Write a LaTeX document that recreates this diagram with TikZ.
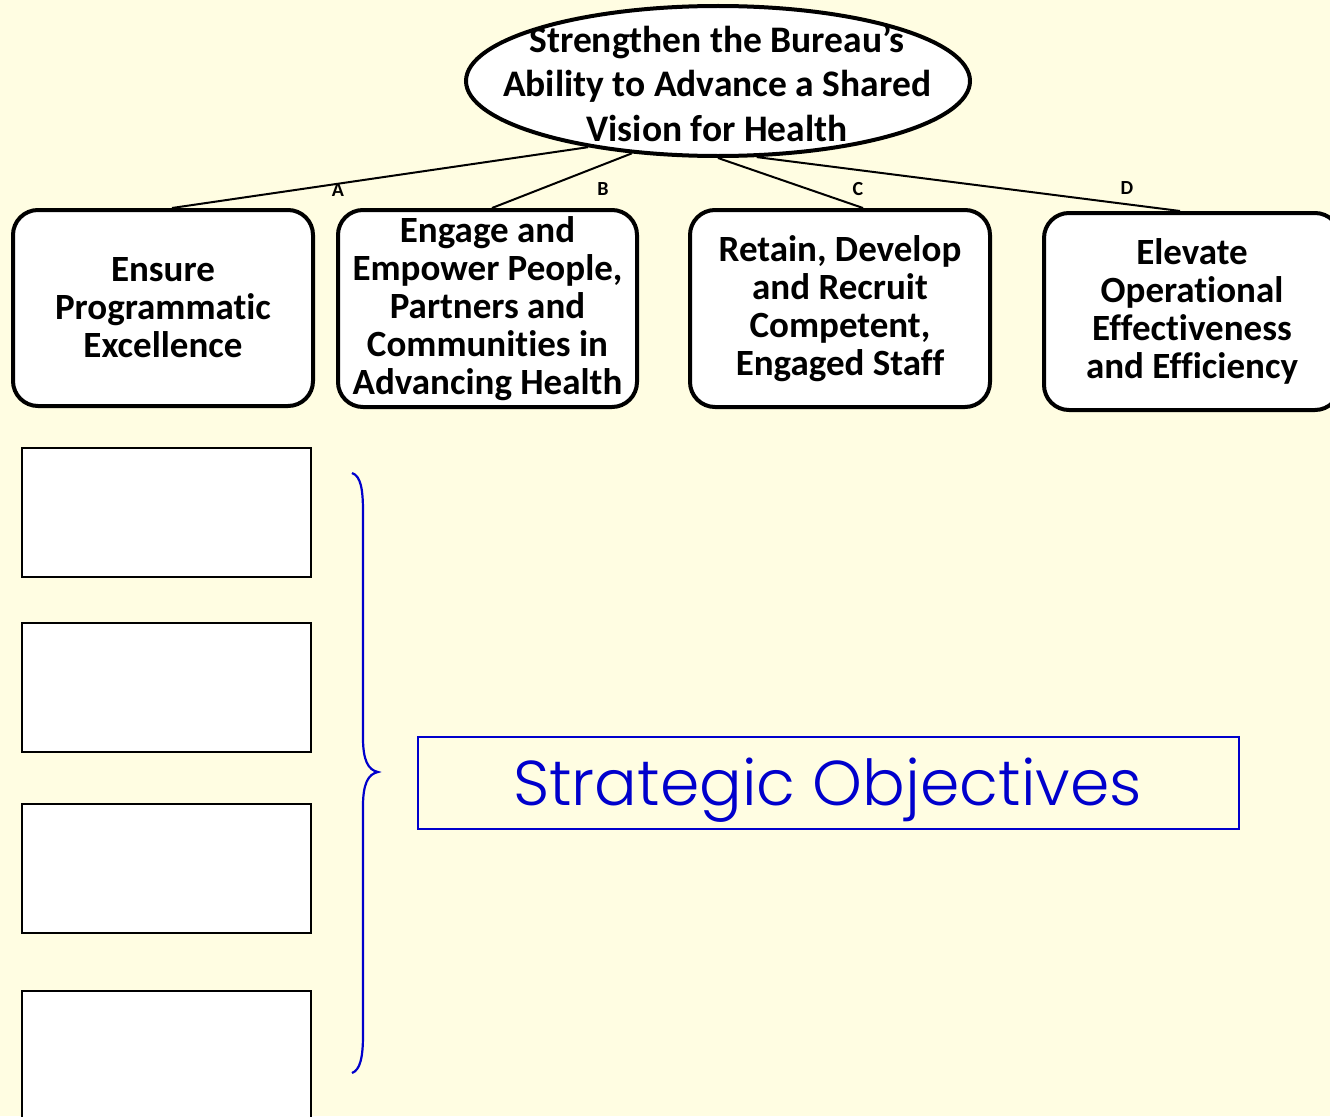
\documentclass[tikz,border=0pt]{standalone}
\usepackage{fontspec}
\setmainfont{Carlito}[Ligatures=NoCommon]
\IfFontExistsTF{Poppins Light}
  {\newfontfamily\gothic{Poppins Light}}
  {\newfontfamily\gothic{Poppins}}
\usetikzlibrary{shapes.geometric,calc}
\definecolor{paper}{HTML}{FFFDE2}
\definecolor{objblue}{RGB}{0,0,204}
\tikzset{
  goalbox/.style={draw=black, line width=4pt, fill=white, rounded corners=25pt,
    inner sep=0pt, align=center, font=\bfseries\fontsize{37}{38}\selectfont},
  link/.style={draw=black, line width=2pt},
  tag/.style={font=\bfseries\fontsize{20}{22}\selectfont, inner sep=0pt},
  slot/.style={draw=black, line width=2.4pt, fill=white, inner sep=0pt,
    minimum width=289pt, minimum height=129pt},
}
\begin{document}
\begin{tikzpicture}[x=1pt,y=-1pt]
  % page and background
  \fill[paper] (0,0) rectangle (1330,1116);
  \useasboundingbox (0,0) rectangle (1330,1116);

  % overall goal
  \node[ellipse, draw=black, line width=4pt, fill=white, minimum width=504pt,
        minimum height=150pt, inner sep=0pt] (goal) at (718,81) {};
  \node[align=center, inner sep=0pt, font=\bfseries\fontsize{37.5}{44.5}\selectfont]
        (goaltext) at (717,83) {Strengthen the Bureau’s\\Ability to Advance a Shared\\Vision for Health};

  % four goal areas
  \node[goalbox, minimum width=300pt, minimum height=196pt] (ga) at (163,308)
        {Ensure\\Programmatic\\Excellence};
  \node[goalbox, minimum width=299pt, minimum height=197pt] (gb) at (487.5,308.5)
        {Engage and\\Empower People,\\Partners and\\Communities in\\Advancing Health};
  \node[goalbox, minimum width=300pt, minimum height=197pt] (gc) at (840,308.5)
        {Retain, Develop\\and Recruit\\Competent,\\Engaged Staff};
  \node[goalbox, minimum width=296pt, minimum height=197pt] (gd) at (1192,311.5)
        {Elevate\\Operational\\Effectiveness\\and Efficiency};

  % connectors from the goal to each area
  \draw[link] (goal.207) -- ($(ga.north)+(9,0)$);
  \draw[link] (goal.220) -- ($(gb.north)+(4.5,0)$);
  \draw[link] (goal.270) -- ($(gc.north)+(23,0)$);
  \draw[link] (goal.297) -- ($(gd.north)+(-12,0)$);

  % connector letters
  \node[tag] (la) at (338,190) {A};
  \node[tag] (lb) at (603,189) {B};
  \node[tag] (lc) at (858,189) {C};
  \node[tag] (ld) at (1127,188) {D};

  % empty objective slots
  \node[slot] (s1) at (166.5,512.5) {};
  \node[slot] (s2) at (166.5,687.5) {};
  \node[slot] (s3) at (166.5,868.5) {};
  \node[slot] (s4) at (166.5,1055.5) {};

  % brace grouping the slots
  \coordinate (bt) at (352,473);
  \coordinate (bm) at (378,772);
  \coordinate (bb) at (352,1073);
  \draw[objblue, line width=2.2pt]
    (bt) .. controls (361,476) and (363,490) .. (363,512)
    -- (363,738) .. controls (363,760) and (368,770) .. (bm)
    .. controls (368,774) and (363,784) .. (363,806)
    -- (363,1035) .. controls (363,1058) and (360,1070) .. (bb);

  % label for the slots
  \node[draw=objblue, line width=2.5pt, minimum width=821pt, minimum height=92pt,
        inner sep=0pt] (sobox) at (828.5,783) {};
  \node[text=objblue, inner sep=0pt, font=\gothic\fontsize{63.3}{68}\selectfont]
        (sotext) at (827.5,790) {Strategic Objectives};
\end{tikzpicture}
\end{document}
